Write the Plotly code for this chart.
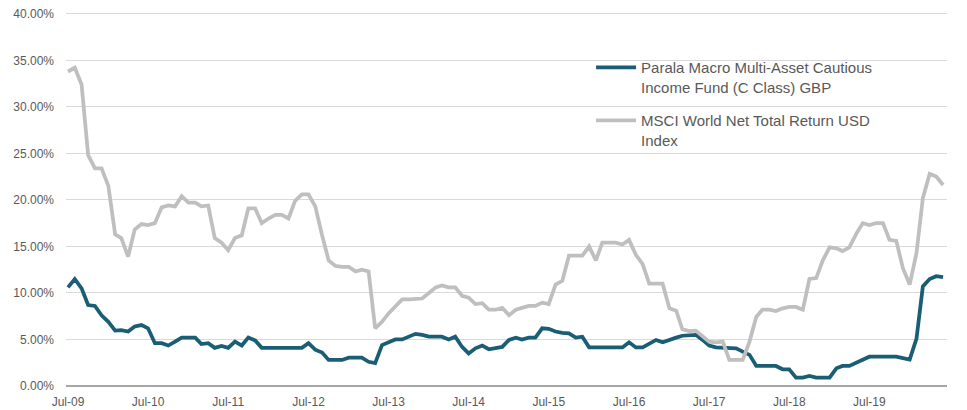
import pandas as pd
import plotly.graph_objects as go

# monthly observations, Jul-09 .. Jun-20
months = pd.date_range("2009-07-01", periods=132, freq="MS")

parala_name = "Parala Macro Multi-Asset Cautious<br>Income Fund (C Class) GBP"
msci_name = "MSCI World Net Total Return USD<br>Index"

y_ticks = [0, 5, 10, 15, 20, 25, 30, 35, 40]
y_labels = ["0.00%", "5.00%", "10.00%", "15.00%", "20.00%",
            "25.00%", "30.00%", "35.00%", "40.00%"]

parala = [
    10.6, 11.5, 10.5, 8.7, 8.6, 7.6, 6.9, 5.95, 6.0, 5.85, 6.4, 6.55,
    6.2, 4.6, 4.6, 4.35, 4.77, 5.2, 5.2, 5.2, 4.5, 4.6, 4.1, 4.3,
    4.1, 4.77, 4.35, 5.2, 4.9, 4.1, 4.1, 4.1, 4.1, 4.1, 4.1, 4.1,
    4.6, 3.9, 3.6, 2.8, 2.8, 2.8, 3.05, 3.05, 3.05, 2.6, 2.45, 4.4,
    4.65, 5.0, 5.0, 5.3, 5.6, 5.5, 5.3, 5.3, 5.3, 5.0, 5.3, 4.2,
    3.5, 4.05, 4.35, 3.95, 4.1, 4.2, 4.95, 5.2, 5.0, 5.2, 5.2, 6.2,
    6.15, 5.85, 5.7, 5.65, 5.2, 5.3, 4.15, 4.15, 4.15, 4.15, 4.15, 4.15,
    4.7, 4.15, 4.15, 4.6, 4.95, 4.7, 5.0, 5.2, 5.4, 5.5, 5.5, 4.95,
    4.35, 4.15, 4.15, 4.05, 4.05, 3.7, 3.35, 2.15, 2.15, 2.15, 2.15, 1.8,
    1.8, 0.9, 0.9, 1.07, 0.9, 0.9, 0.9, 1.9, 2.15, 2.15, 2.5, 2.85,
    3.15, 3.15, 3.15, 3.15, 3.15, 3.0, 2.85, 5.1, 10.7, 11.5, 11.8, 11.7,
]

msci = [
    33.8, 34.2, 32.4, 24.8, 23.4, 23.4, 21.5, 16.3, 15.9, 13.9, 16.8, 17.4,
    17.3, 17.5, 19.2, 19.4, 19.3, 20.4, 19.7, 19.7, 19.3, 19.4, 15.9, 15.4,
    14.6, 15.9, 16.2, 19.1, 19.1, 17.5, 18.0, 18.4, 18.4, 18.0, 19.9, 20.6,
    20.6, 19.3, 16.2, 13.5, 12.9, 12.8, 12.8, 12.3, 12.5, 12.3, 6.2, 6.9,
    7.8, 8.6, 9.3, 9.3, 9.3, 9.4, 10.0, 10.6, 10.8, 10.6, 10.6, 9.7,
    9.5, 8.8, 8.9, 8.2, 8.2, 8.4, 7.6, 8.2, 8.4, 8.6, 8.6, 8.96,
    8.8, 10.9, 11.3, 14.0, 14.0, 14.0, 15.0, 13.5, 15.4, 15.4, 15.4, 15.2,
    15.7, 14.1, 13.1, 11.0, 11.0, 11.0, 8.35, 8.1, 6.1, 5.9, 5.95, 5.3,
    4.77, 4.7, 4.77, 2.8, 2.8, 2.8, 4.77, 7.45, 8.2, 8.2, 8.06, 8.35,
    8.5, 8.5, 8.2, 11.5, 11.6, 13.5, 14.9, 14.8, 14.5, 14.9, 16.3, 17.5,
    17.3, 17.5, 17.5, 15.7, 15.6, 12.65, 10.9, 14.3, 20.2, 22.8, 22.5, 21.6,
]

teal = "rgb(26,94,117)"
grey = "rgb(191,191,191)"
txt = "rgb(89,89,89)"

fig = go.Figure()
fig.add_trace(go.Scatter(x=months, y=parala, mode="lines", name=parala_name,
                         legendgroup="a", line=dict(color=teal, width=3.75)))
fig.add_trace(go.Scatter(x=months, y=msci, mode="lines", name=msci_name,
                         legendgroup="b", line=dict(color=grey, width=3.75)))

fig.update_layout(
    width=967, height=410,
    margin=dict(l=66, r=20, t=11, b=24),
    plot_bgcolor="white", paper_bgcolor="white",
    font=dict(family="Liberation Sans", color=txt, size=12),
    showlegend=True,
    legend=dict(x=0.596, y=0.893, xanchor="left", yanchor="top", valign="top",
                bgcolor="rgba(0,0,0,0)", font=dict(size=15, color=txt),
                tracegroupgap=11, itemwidth=40),
)
fig.update_xaxes(
    range=["2009-06-22", "2020-06-19"],
    tickformat="%b-%y", dtick="M12", tick0="2009-07-01",
    showgrid=False, showline=False, zeroline=False,
    ticks="", ticklabelstandoff=7, automargin=False,
)
fig.update_yaxes(
    range=[0, 40.3], tickvals=y_ticks, ticktext=y_labels,
    showgrid=True, gridcolor="rgb(217,217,217)", gridwidth=1,
    zeroline=True, zerolinecolor="rgb(166,166,166)", zerolinewidth=2,
    showline=False, ticks="", ticklabelstandoff=11, automargin=False,
)

# drop the browser's default body margin so the figure sits at 0,0
fig.write_html("out.html", config={"displayModeBar": False},
               post_script="document.body.style.margin='0';")
